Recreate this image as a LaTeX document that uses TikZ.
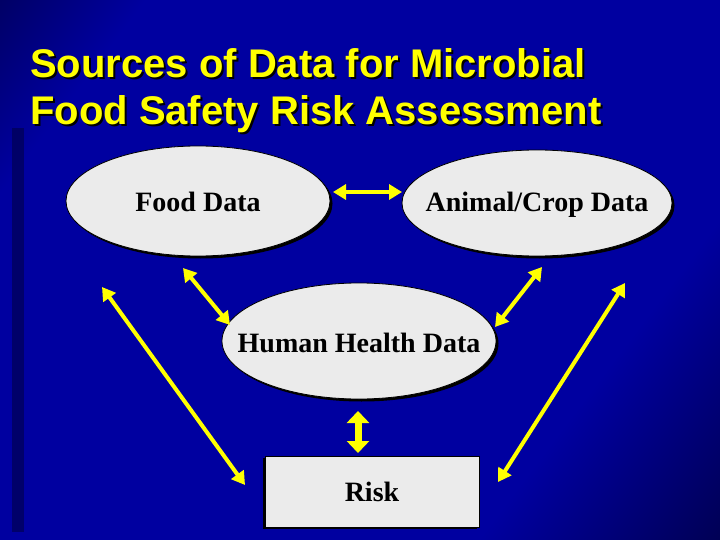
\documentclass[tikz,border=0pt]{standalone}
\usepackage{fontspec}
\setmainfont{Liberation Serif}
\newfontfamily\titlefont{Liberation Sans}
\usetikzlibrary{arrows.meta,shapes.geometric,shadows}
\definecolor{bgblue}{RGB}{0,0,160}
\definecolor{bgdark}{RGB}{0,0,70}
\definecolor{nodegray}{RGB}{235,235,235}
\definecolor{ayellow}{RGB}{255,255,0}
\pgfdeclarehorizontalshading{bgsh}{100bp}{color(0bp)=(black); color(10bp)=(bgdark); color(24bp)=(bgblue); color(70bp)=(bgblue); color(88bp)=(bgdark); color(100bp)=(black)}
\newcommand{\shadowtitle}[1]{\makebox[0pt][l]{\hspace{2pt}\raisebox{-2pt}{\textcolor{black}{#1}}}\textcolor{ayellow}{#1}}
\tikzset{
  titletext/.style={font=\titlefont\bfseries\fontsize{40}{47}\selectfont, anchor=base west, inner sep=0pt},
  ovalshape/.style={draw=black, line width=0.8pt, fill=nodegray},
  ovalshadow/.style={fill=black},
  ovaltext/.style={inner sep=0pt, font=\bfseries\fontsize{28}{32}\selectfont},
  riskbox/.style={rectangle, draw=black, line width=0.8pt, fill=nodegray, inner sep=0pt,
    drop shadow={shadow xshift=-2pt, shadow yshift=-2pt, fill=black, opacity=1},
    font=\bfseries\fontsize{28}{32}\selectfont},
  dbl/.style={draw=ayellow, line width=4pt, {Triangle[width=15pt,length=13pt]}-{Triangle[width=15pt,length=13pt]}},
  dblfat/.style={draw=ayellow, line width=7pt, {Triangle[width=22pt,length=12pt]}-{Triangle[width=22pt,length=12pt]}}
}
\begin{document}
\begin{tikzpicture}[x=1pt,y=-1pt]
\useasboundingbox (0,0) rectangle (720,540);
% background
\shade[shading=bgsh, shading angle=-37] (0,0) rectangle (720,540);
\fill[bgdark, opacity=0.6] (12,128) rectangle (24,532);
% title
\node[titletext] (t1) at (30,78) {\shadowtitle{Sources of Data for Microbial}};
\node[titletext] (t2) at (30,125) {\shadowtitle{Food Safety Risk Assessment}};
% ellipses
\fill[ovalshadow] (200.5,203.5) ellipse [x radius=132, y radius=55];
\draw[ovalshape] (198,201) ellipse [x radius=132, y radius=55];
\fill[ovalshadow] (539.5,205.5) ellipse [x radius=135, y radius=53];
\draw[ovalshape] (537,203) ellipse [x radius=135, y radius=53];
\fill[ovalshadow] (361.5,343.5) ellipse [x radius=137, y radius=58];
\draw[ovalshape] (359,341) ellipse [x radius=137, y radius=58];
% node texts
\node[ovaltext] (food) at (198,202) {Food Data};
\node[ovaltext] (animal) at (537,205) {Animal/Crop Data};
\node[ovaltext] (human) at (359,343) {Human Health Data};
\node[riskbox, minimum width=214pt, minimum height=71pt] (risk) at (372,491.5) {Risk};
% connector ends
\coordinate (fa1) at (333,192);
\coordinate (fa2) at (402,192);
\coordinate (fh1) at (183,268);
\coordinate (fh2) at (230,325);
\coordinate (ah1) at (542,267);
\coordinate (ah2) at (495,327);
\coordinate (fr1) at (102,287);
\coordinate (fr2) at (245,485);
\coordinate (ar1) at (625,283);
\coordinate (ar2) at (498,482);
\coordinate (hr1) at (358,411);
\coordinate (hr2) at (358,453);
% connectors
\draw[dbl] (fa1) -- (fa2);
\draw[dbl] (fh1) -- (fh2);
\draw[dbl] (ah1) -- (ah2);
\draw[dbl] (fr1) -- (fr2);
\draw[dbl] (ar1) -- (ar2);
\draw[dblfat] (hr1) -- (hr2);
\end{tikzpicture}
\end{document}
